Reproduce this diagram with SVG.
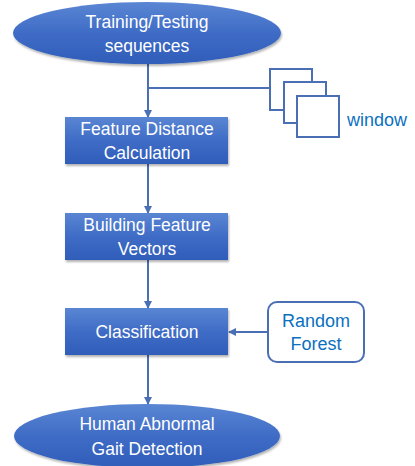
<svg xmlns="http://www.w3.org/2000/svg" width="415" height="466" viewBox="0 0 415 466">
<defs>
<linearGradient id="g" x1="0" y1="0" x2="0" y2="1">
<stop offset="0" stop-color="#5a86d3"/>
<stop offset="0.5" stop-color="#3f6cc6"/>
<stop offset="1" stop-color="#2f5db9"/>
</linearGradient>
<filter id="sh" x="-10%" y="-10%" width="125%" height="130%">
<feDropShadow dx="1" dy="2" stdDeviation="1.2" flood-color="#000" flood-opacity="0.3"/>
</filter>
<marker id="ah" markerWidth="8" markerHeight="8" refX="7" refY="4" orient="auto" markerUnits="userSpaceOnUse">
<path d="M0,0 L8,4 L0,8 Z" fill="#4a6fb5"/>
</marker>
<style>
.n{fill:url(#g);filter:url(#sh)}
.t{font-family:"Liberation Sans",Arial,sans-serif;font-size:17.5px;fill:#fff;text-anchor:middle}
.b{font-family:"Liberation Sans",Arial,sans-serif;font-size:18px;fill:#0b70c0;text-anchor:middle}
.c{stroke:#4a6fb5;stroke-width:2;fill:none}
.w{fill:#fff;stroke:#4a6fb5;stroke-width:2}
</style>
</defs>
<rect width="415" height="466" fill="#fff"/>
<g id="connectors">
<line class="c" x1="148" y1="64" x2="148" y2="117" marker-end="url(#ah)"/>
<line class="c" x1="148" y1="88" x2="270" y2="88"/>
<line class="c" x1="148" y1="164" x2="148" y2="213" marker-end="url(#ah)"/>
<line class="c" x1="148" y1="260" x2="148" y2="308" marker-end="url(#ah)"/>
<line class="c" x1="268" y1="332" x2="229" y2="332" marker-end="url(#ah)"/>
<line class="c" x1="148" y1="355" x2="148" y2="404" marker-end="url(#ah)"/>
</g>
<g id="start">
<ellipse class="n" cx="147" cy="33" rx="134" ry="31"/>
<text class="t" x="147" y="28">Training/Testing</text>
<text class="t" x="147" y="52">sequences</text>
</g>
<g id="window">
<rect class="w" x="270" y="69" width="42" height="41"/>
<rect class="w" x="284" y="82" width="42" height="41"/>
<rect class="w" x="297" y="96" width="42" height="41"/>
<text class="b" x="347" y="126" style="text-anchor:start">window</text>
</g>
<g id="feature-distance">
<rect class="n" x="65" y="117" width="163" height="47"/>
<text class="t" x="147" y="135">Feature Distance</text>
<text class="t" x="147" y="159">Calculation</text>
</g>
<g id="building">
<rect class="n" x="65" y="213" width="163" height="47"/>
<text class="t" x="147" y="231">Building Feature</text>
<text class="t" x="147" y="255">Vectors</text>
</g>
<g id="classification">
<rect class="n" x="65" y="308" width="163" height="47"/>
<text class="t" x="147" y="338">Classification</text>
</g>
<g id="random-forest">
<rect class="w" x="268" y="302" width="96" height="60" rx="9"/>
<text class="b" x="316" y="327">Random</text>
<text class="b" x="316" y="350">Forest</text>
</g>
<g id="end">
<ellipse class="n" cx="147" cy="436" rx="133" ry="32"/>
<text class="t" x="147" y="430">Human Abnormal</text>
<text class="t" x="147" y="455">Gait Detection</text>
</g>
</svg>
